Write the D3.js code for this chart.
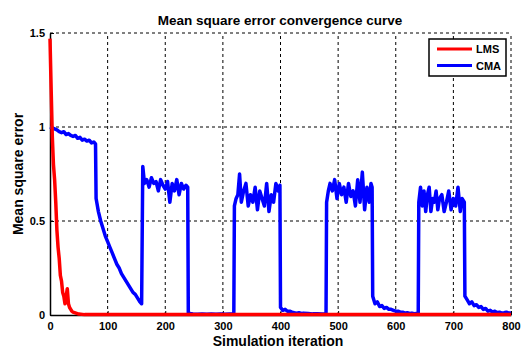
<!DOCTYPE html>
<meta charset="utf-8">
<style>
  body { margin: 0; background: #fff; }
  text { font-family: "Liberation Sans", Arial, sans-serif; font-weight: bold; }
</style>
<body></body>
<script src="https://d3js.org/d3.v7.min.js"></script>
<script>
// LMS curve
const lmsIter = [0, 2, 4, 6, 8, 10, 12, 14, 16, 18, 20, 22, 24, 26, 28, 30, 32, 34, 36, 38, 40, 45, 50, 60, 800];
const lmsMse  = [1.47, 1.2, 0.95, 0.8, 0.72, 0.6, 0.45, 0.36, 0.3, 0.21, 0.18, 0.12, 0.1, 0.06, 0.1, 0.14, 0.06, 0.04, 0.03, 0.02, 0.015, 0.01, 0.005, 0.002, 0.002];

// CMA curve
const cmaIter = [
  0, 4, 8, 12, 16, 20, 24, 28, 32, 36, 40, 44, 48, 52, 56, 60, 64, 68, 72, 76, 79,
  80, 84, 88, 92, 96, 100, 104, 108, 112, 116, 120, 124, 128, 132, 136, 140, 144, 148, 152, 156, 159,
  161, 164, 168, 172, 176, 180, 184, 188, 192, 196, 200, 204, 208, 212, 216, 220, 224, 228, 232, 236, 239,
  240, 248, 256, 264, 272, 280, 288, 296, 304, 312, 319,
  320, 323, 326, 329, 332, 336, 340, 344, 348, 352, 356, 360, 364, 368, 372, 376, 380, 384, 388, 392, 396, 399,
  400, 404, 408, 412, 416, 420, 424, 428, 432, 436, 440, 448, 456, 464, 472, 479,
  480, 483, 486, 490, 494, 498, 502, 506, 510, 514, 518, 522, 526, 530, 534, 538, 542, 546, 550, 554, 557, 559,
  560, 564, 568, 572, 576, 580, 584, 588, 592, 596, 600, 604, 608, 612, 616, 620, 624, 628, 632, 636, 639,
  640, 643, 646, 649, 652, 655, 658, 661, 664, 667, 670, 673, 676, 680, 684, 688, 692, 696, 700, 704, 708, 712, 715, 719,
  720, 724, 728, 732, 736, 740, 744, 748, 752, 756, 760, 764, 768, 772, 776, 780, 784, 788, 792, 796, 800
];
const cmaMse = [
  1.0, 0.995, 0.99, 0.985, 0.975, 0.97, 0.975, 0.96, 0.965, 0.955, 0.95, 0.955, 0.94, 0.945, 0.93, 0.935, 0.925, 0.93, 0.915, 0.92, 0.91,
  0.62, 0.55, 0.5, 0.46, 0.42, 0.39, 0.36, 0.33, 0.3, 0.27, 0.25, 0.22, 0.2, 0.18, 0.16, 0.14, 0.12, 0.11, 0.09, 0.07, 0.06,
  0.79, 0.7, 0.72, 0.68, 0.73, 0.7, 0.71, 0.66, 0.72, 0.69, 0.67, 0.71, 0.6, 0.7, 0.66, 0.72, 0.64, 0.7, 0.67, 0.69, 0.68,
  0.01, 0.006, 0.004, 0.005, 0.004, 0.005, 0.004, 0.005, 0.004, 0.005, 0.005,
  0.58, 0.62, 0.64, 0.75, 0.6, 0.66, 0.7, 0.58, 0.64, 0.6, 0.68, 0.56, 0.66, 0.62, 0.58, 0.7, 0.55, 0.64, 0.6, 0.7, 0.66, 0.69,
  0.04, 0.025, 0.03, 0.02, 0.02, 0.015, 0.012, 0.01, 0.012, 0.008, 0.01, 0.008, 0.006, 0.007, 0.005, 0.005,
  0.6, 0.66, 0.7, 0.66, 0.72, 0.62, 0.7, 0.64, 0.68, 0.6, 0.7, 0.63, 0.66, 0.58, 0.72, 0.6, 0.76, 0.56, 0.68, 0.6, 0.7, 0.68,
  0.1, 0.06, 0.07, 0.045, 0.05, 0.035, 0.04, 0.03, 0.03, 0.025, 0.02, 0.02, 0.015, 0.015, 0.01, 0.012, 0.008, 0.01, 0.007, 0.008, 0.007,
  0.6, 0.68, 0.58, 0.66, 0.55, 0.64, 0.68, 0.55, 0.62, 0.6, 0.66, 0.56, 0.62, 0.64, 0.55, 0.6, 0.66, 0.56, 0.62, 0.58, 0.68, 0.55, 0.62, 0.6,
  0.1, 0.08, 0.06, 0.07, 0.05, 0.055, 0.04, 0.045, 0.03, 0.035, 0.02, 0.025, 0.015, 0.02, 0.012, 0.015, 0.01, 0.012, 0.015, 0.01, 0.012
];

const xTicks = [0, 100, 200, 300, 400, 500, 600, 700, 800];
const yTicks = [0, 0.5, 1, 1.5];
const series = ["LMS", "CMA"];
const colors = ["#ff0000", "#0000ff"];

const width = 521, height = 347;
const margin = {top: 33, right: 10, bottom: 32, left: 50};

const svg = d3.select("body").append("svg")
    .attr("width", width)
    .attr("height", height);

const x = d3.scaleLinear().domain([0, 800]).range([margin.left, width - margin.right]);
const y = d3.scaleLinear().domain([0, 1.5]).range([height - margin.bottom, margin.top]);

// grid
const grid = svg.append("g")
    .attr("stroke", "#000")
    .attr("stroke-width", 1)
    .attr("stroke-dasharray", "3,3");
grid.selectAll(".gx").data(xTicks.filter(d => d > 0)).join("line")
    .attr("x1", d => x(d)).attr("x2", d => x(d))
    .attr("y1", y(0)).attr("y2", y(1.5));
grid.selectAll(".gy").data(yTicks.filter(d => d > 0)).join("line")
    .attr("x1", x(0)).attr("x2", x(800))
    .attr("y1", d => y(d)).attr("y2", d => y(d));

// axes
const xAxis = svg.append("g")
    .attr("transform", `translate(0,${y(0)})`)
    .call(d3.axisBottom(x).tickValues(xTicks).tickSizeInner(-4).tickSizeOuter(0).tickPadding(7));
const yAxis = svg.append("g")
    .attr("transform", `translate(${x(0)},0)`)
    .call(d3.axisLeft(y).tickValues(yTicks).tickFormat(d3.format("")).tickSizeInner(-4).tickSizeOuter(0).tickPadding(5));
[xAxis, yAxis].forEach(a => {
  a.selectAll("text").attr("font-size", 11).attr("fill", "#000")
    .style("font-family", "'Liberation Sans', Arial, sans-serif").style("font-weight", "bold");
  a.select(".domain").attr("stroke", "#000").attr("stroke-width", 1.5);
  a.selectAll(".tick line").attr("stroke", "#000");
});

// lines
const line = d3.line().x(d => x(d[0])).y(d => y(d[1]));
const cmaData = d3.zip(cmaIter, cmaMse);
const lmsData = d3.zip(lmsIter, lmsMse);

svg.append("path").datum(cmaData)
    .attr("d", line).attr("fill", "none")
    .attr("stroke", colors[1]).attr("stroke-width", 3.5).attr("stroke-linejoin", "round");
svg.append("path").datum(lmsData)
    .attr("d", line).attr("fill", "none")
    .attr("stroke", colors[0]).attr("stroke-width", 3.5).attr("stroke-linejoin", "round");

// title and labels
svg.append("text").attr("x", 280).attr("y", 25)
    .attr("text-anchor", "middle").attr("font-size", 13.5)
    .text("Mean square error convergence curve");
svg.append("text").attr("x", 278).attr("y", 346)
    .attr("text-anchor", "middle").attr("font-size", 14)
    .text("Simulation iteration");
svg.append("text").attr("transform", `translate(23,${(y(0) + y(1.5)) / 2}) rotate(-90)`)
    .attr("text-anchor", "middle").attr("font-size", 14)
    .text("Mean square error");

// legend
const lg = svg.append("g").attr("transform", "translate(429,39)");
lg.append("rect").attr("width", 77).attr("height", 37)
    .attr("fill", "#fff").attr("stroke", "#000").attr("stroke-width", 1.5);
series.forEach((s, i) => {
  const yy = 10 + i * 16.5;
  lg.append("line").attr("x1", 8).attr("x2", 43).attr("y1", yy).attr("y2", yy)
      .attr("stroke", colors[i]).attr("stroke-width", 3);
  lg.append("text").attr("x", 47).attr("y", yy + 4).attr("font-size", 11).text(s);
});
</script>
